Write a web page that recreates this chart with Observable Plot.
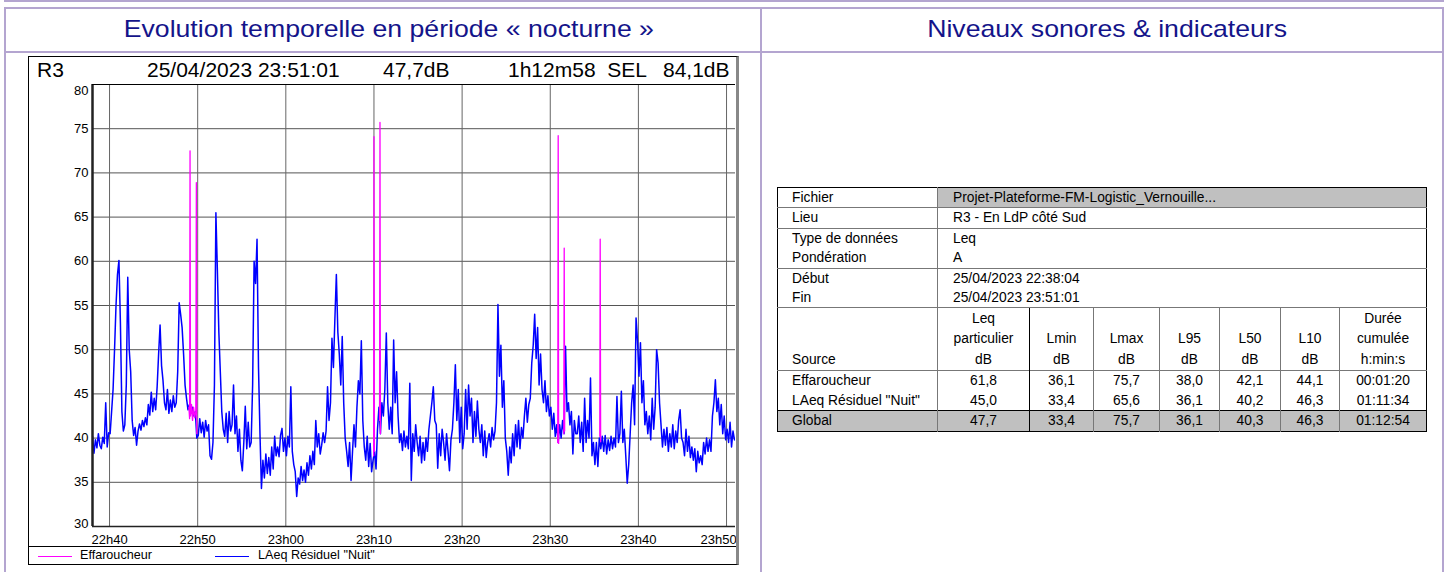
<!DOCTYPE html>
<html><head><meta charset="utf-8">
<script src="https://cdn.jsdelivr.net/npm/d3@7"></script>
<script src="https://cdn.jsdelivr.net/npm/@observablehq/plot@0.6"></script>
<style>
html,body{margin:0;padding:0;}
body{width:1448px;height:572px;position:relative;overflow:hidden;background:#fff;font-family:"Liberation Sans",Arial,sans-serif;color:#000;}
.ln{position:absolute;background:#b4a5d0;}
.title{position:absolute;top:8px;height:41px;line-height:41px;text-align:center;color:#14148a;font-size:24px;}
.title span{display:inline-block;transform:scaleX(1.11);}
#frame{position:absolute;left:28px;top:56px;width:707px;height:507px;border:1px solid #000;border-right:3px solid #888;}
.hd{position:absolute;top:58px;font-size:21px;line-height:24px;white-space:pre;}
#legend{position:absolute;left:28px;top:546px;width:708px;height:17px;border-top:1px solid #000;font-size:12.6px;}
.lgline{position:absolute;top:9px;height:1px;width:34px;}
.lgtxt{position:absolute;top:1px;line-height:15px;}
#plot{position:absolute;left:28px;top:78px;}
#tbl{position:absolute;left:777px;top:187px;border-collapse:collapse;table-layout:fixed;font-size:13.8px;}
#tbl td{padding:0;height:19.4px;line-height:19.4px;white-space:nowrap;overflow:hidden;}
#tbl td.lab{padding-left:14px;}
#tbl td.val{padding-left:15px;}
#tbl td.num{text-align:center;}
</style></head>
<body>
<div class="ln" style="left:4px;top:0;width:1440px;height:2px;"></div>
<div class="ln" style="left:4px;top:7px;width:1440px;height:2px;"></div>
<div class="ln" style="left:4px;top:51px;width:1440px;height:2px;"></div>
<div class="ln" style="left:4px;top:7px;width:2px;height:570px;"></div>
<div class="ln" style="left:760px;top:7px;width:2px;height:570px;"></div>
<div class="ln" style="left:1442px;top:7px;width:2px;height:570px;"></div>
<div class="title" style="left:12px;width:754px;"><span>Evolution temporelle en période « nocturne »</span></div>
<div class="title" style="left:767px;width:680px;"><span>Niveaux sonores &amp; indicateurs</span></div>
<div id="frame"></div>
<div id="hdr"></div>
<div id="plot"></div>
<div id="legend"></div>
<table id="tbl"></table>
<script>
// ---------- data ----------
const startTime = "2023-04-25T22:38:04Z";
const endTime = "2023-04-25T23:51:01Z";
const stepSeconds = 10;
// LAeq Résiduel "Nuit" — one row per minute (6 readings of 10 s), from 22:38:04
const residuelValues = [
  40.2, 38.3, 39.8, 38.9, 40.5, 39.2,
  38.8, 40.1, 39.4, 44.0, 39.0, 40.6,
  40.5, 43.0, 45.5, 50.0, 55.0, 58.5,
  60.1, 53.0, 43.0, 40.8, 41.5, 46.0,
  58.2, 50.0, 47.5, 42.0, 40.3, 41.2,
  39.2, 40.8, 41.6, 40.9, 42.0, 41.3,
  42.3, 41.5, 43.8, 42.6, 45.2, 43.0,
  44.5, 43.2, 45.8, 49.5, 52.8, 48.2,
  46.5, 44.0, 43.2, 45.5, 42.8, 44.3,
  43.0, 44.8, 43.5, 44.0, 47.5, 55.3,
  54.0, 52.5, 49.5, 46.0, 44.5, 43.2,
  43.8, 42.8, 43.5, 42.5, 43.0, 40.0,
  40.3, 42.2, 40.6, 41.8, 40.1, 42.0,
  40.8, 41.5, 38.0, 37.6, 39.5, 46.0,
  65.5, 59.0, 52.0, 47.5, 43.0, 41.0,
  40.2, 42.8, 39.5, 43.0, 40.8, 41.5,
  46.0, 40.5, 42.5, 38.5, 41.0, 37.5,
  36.3, 39.5, 43.6, 38.8, 41.8, 39.0,
  39.5, 46.0, 60.0, 57.5, 62.5, 48.0,
  40.5, 34.3, 37.5, 35.5, 38.2, 36.0,
  37.8, 35.8, 39.0, 36.5, 40.2, 38.0,
  39.0, 37.9, 40.3, 41.1, 38.5, 40.0,
  38.0, 40.2, 39.0, 45.8, 38.5, 37.0,
  36.2, 33.4, 35.5, 34.8, 36.8, 35.2,
  36.4, 35.0, 37.2, 35.8, 38.0, 36.5,
  38.5, 37.0, 42.0, 39.0, 40.5, 38.2,
  39.2, 40.6, 39.5, 40.8, 45.8, 42.0,
  44.0, 51.3, 48.0, 53.5, 58.5, 52.0,
  49.5, 46.0, 51.5, 44.0, 40.0, 38.5,
  36.8, 39.5, 35.2, 38.5, 41.5, 39.0,
  43.5, 46.5, 45.0, 51.0, 42.0, 39.0,
  37.5, 40.2, 36.8, 39.4, 36.2, 37.5,
  38.5, 36.5, 41.0, 43.5, 40.5, 44.0,
  42.5, 45.5, 51.9, 44.0, 41.0, 43.5,
  40.5, 51.1, 44.0, 47.5, 42.5, 39.5,
  40.5, 38.6, 40.8, 39.0, 40.2, 38.8,
  46.2, 35.2, 40.5, 38.5, 41.5, 39.5,
  38.0, 40.2, 37.2, 39.5, 37.5, 40.0,
  38.5, 41.0, 42.5, 44.0, 45.8, 42.0,
  41.5, 36.6, 40.5, 38.0, 41.0, 39.5,
  37.5, 40.5, 38.5, 36.3, 39.8, 41.0,
  44.0, 48.3, 42.0, 45.5, 39.5, 43.5,
  38.8, 40.5, 45.5, 41.0, 46.0, 42.5,
  44.5, 39.5, 43.0, 40.2, 44.2, 41.0,
  39.5, 41.5, 38.0, 40.8, 37.8, 39.5,
  40.5, 39.0, 41.2, 39.8, 40.8, 44.0,
  55.1, 47.0, 50.5, 43.5, 46.5, 40.0,
  38.5, 35.8, 39.0, 37.2, 40.5, 38.0,
  41.5, 39.0, 42.0, 38.8, 41.2, 40.0,
  42.5, 44.5, 41.8, 43.8, 44.5, 48.5,
  50.5, 54.0, 49.0, 52.5, 46.0, 49.5,
  45.5, 44.0, 46.5, 43.0, 44.8, 42.5,
  43.5, 41.0, 42.8, 40.2, 41.5, 39.5,
  41.5, 40.0, 42.0, 40.5, 50.4, 43.0,
  44.0, 41.5, 43.0, 38.2, 42.0, 40.5,
  40.5, 42.5, 39.5, 41.8, 38.5, 44.5,
  39.5, 42.0, 40.0, 46.8, 38.0, 39.5,
  37.0, 39.5, 36.8, 40.0, 38.8, 40.2,
  38.5, 40.3, 38.2, 39.8, 38.6, 40.2,
  38.8, 40.0, 39.0, 44.7, 39.5, 40.5,
  45.3, 39.5, 41.0, 38.0, 34.9, 37.0,
  40.5, 44.0, 46.0, 41.5, 53.6, 51.0,
  47.0, 50.8, 44.0, 46.5, 41.5, 43.0,
  40.5, 42.5, 39.8, 44.5, 41.0, 43.5,
  50.0, 48.5, 44.0, 41.5, 39.0, 41.0,
  39.2, 41.2, 38.5, 40.5, 39.0, 41.5,
  38.8, 40.8, 39.5, 42.0, 43.2, 40.0,
  39.5, 38.0, 41.0, 38.5, 40.2, 37.8,
  39.0, 37.5, 38.8, 36.2, 38.5, 37.2,
  38.0, 37.0, 39.5, 38.2, 40.0, 38.5,
  39.8, 38.5, 42.5, 44.0, 46.6, 43.0,
  44.5, 41.5, 43.8, 40.5, 42.5, 39.8,
  41.0, 39.5, 41.8, 39.0, 40.8, 39.8
];
// Effaroucheur events: time, dB, event id
const effaroucheurTimes = ["22:49:00","22:49:05","22:49:08","22:49:11","22:49:18","22:49:25","22:49:32","22:49:40","22:49:47","22:49:51","22:49:54",
  "23:09:58","23:10:00","23:10:03",
  "23:10:38","23:10:41","23:10:44",
  "23:30:51","23:30:54","23:30:57",
  "23:31:32","23:31:35","23:31:38",
  "23:35:37","23:35:40","23:35:43"];
const effaroucheurValues = [43.5,42.2,72.5,42.5,43.8,42.0,43.5,42.3,43.0,68.9,40.5,
  38.0,74.1,38.5,
  42.0,75.7,40.5,
  39.5,74.2,39.4,
  40.5,61.5,40.8,
  40.2,62.5,39.6];
const effaroucheurEvent = [1,1,1,1,1,1,1,1,1,1,1, 2,2,2, 3,3,3, 4,4,4, 5,5,5, 6,6,6];
const xTickTimes = ["22:40","22:50","23:00","23:10","23:20","23:30","23:40","23:50"];
const yTicks = [30,35,40,45,50,55,60,65,70,75,80];
const headerTexts = ["R3","25/04/2023 23:51:01","47,7dB","1h12m58  SEL","84,1dB"];
const legendLabels = ["Effaroucheur","LAeq Résiduel \"Nuit\""];
const seriesColors = ["#ff00ff","#0000ff"];

const metaLabels = ["Fichier","Lieu","Type de données","Pondération","Début","Fin"];
const metaValues = ["Projet-Plateforme-FM-Logistic_Vernouille...","R3 - En LdP côté Sud","Leq","A","25/04/2023 22:38:04","25/04/2023 23:51:01"];
const statHeaders = [["","","Source"],["Leq","particulier","dB"],["","Lmin","dB"],["","Lmax","dB"],["","L95","dB"],["","L50","dB"],["","L10","dB"],["Durée","cumulée","h:min:s"]];
const statSources = ["Effaroucheur","LAeq Résiduel \"Nuit\"","Global"];
const statLeq = ["61,8","45,0","47,7"];
const statLmin = ["36,1","33,4","33,4"];
const statLmax = ["75,7","65,6","75,7"];
const statL95 = ["38,0","36,1","36,1"];
const statL50 = ["42,1","40,2","40,3"];
const statL10 = ["44,1","46,3","46,3"];
const statDuree = ["00:01:20","01:11:34","01:12:54"];

// ---------- chart ----------
const t0 = new Date(startTime), t1 = new Date(endTime);
const day = "2023-04-25T";
const toDate = s => new Date(day + (s.length === 5 ? s + ":00" : s) + "Z");
const residuel = residuelValues.map((v, i) => ({time: new Date(+t0 + i * stepSeconds * 1000), value: v}));
const eff = effaroucheurTimes.map((s, i) => ({time: toDate(s), value: effaroucheurValues[i], event: effaroucheurEvent[i]}));
const xTicks = xTickTimes.map(toDate);
const fmt = d3.utcFormat("%Hh%M");
const lastTick = xTicks[xTicks.length - 1];

const chart = Plot.plot({
  width: 708, height: 470,
  marginLeft: 64, marginRight: 1, marginTop: 6, marginBottom: 22,
  x: {type: "utc", domain: [t0, t1], label: null},
  y: {domain: [30, 80], label: null},
  style: {fontFamily: "'Liberation Sans', Arial, sans-serif", fontSize: "13px", color: "#000", background: "transparent"},
  marks: [
    Plot.gridY(yTicks, {stroke: "#555", strokeOpacity: 1, strokeWidth: 1}),
    Plot.gridX(xTicks, {stroke: "#666", strokeOpacity: 1, strokeWidth: 1}),
    Plot.line(residuel, {x: "time", y: "value", stroke: seriesColors[1], strokeWidth: 1.5, clip: true}),
    Plot.line(eff, {x: "time", y: "value", z: "event", stroke: seriesColors[0], strokeWidth: 1.3, clip: true}),
    Plot.ruleX([t0], {stroke: "#222", strokeWidth: 2.5}),
    Plot.ruleY([80], {stroke: "#000", strokeWidth: 1}),
    Plot.ruleY([30], {stroke: "#222", strokeWidth: 1.5}),
    Plot.axisY(yTicks.filter(v => v > 30 && v < 80), {tickSize: 0, tickPadding: 4, fontSize: 13}),
    Plot.text([80], {y: d => d, text: d => String(d), frameAnchor: "left", textAnchor: "end", dx: -4, dy: 6, fontSize: 13}),
    Plot.text([30], {y: d => d, text: d => String(d), frameAnchor: "left", textAnchor: "end", dx: -4, dy: -3, fontSize: 13}),
    Plot.axisX(xTicks.slice(0, -1), {tickSize: 0, tickPadding: 8, tickFormat: fmt, fontSize: 13}),
    Plot.text([lastTick], {x: d => d, text: d => fmt(d), frameAnchor: "bottom", lineAnchor: "top", dy: 8, dx: -8, fontSize: 13})
  ]
});
document.getElementById("plot").appendChild(chart);

// header
const hdr = document.getElementById("hdr");
const hdrPos = [37, 147, 383, 508, 663];
headerTexts.forEach((t, i) => {
  const d = document.createElement("div");
  d.className = "hd";
  d.style.left = hdrPos[i] + "px";
  d.textContent = t;
  hdr.appendChild(d);
});

// legend
const lg = document.getElementById("legend");
const lgPos = [[10, 52], [187, 230]];
legendLabels.forEach((t, i) => {
  const l = document.createElement("div");
  l.className = "lgline"; l.style.left = lgPos[i][0] + "px"; l.style.background = seriesColors[i];
  lg.appendChild(l);
  const s = document.createElement("div");
  s.className = "lgtxt"; s.style.left = lgPos[i][1] + "px"; s.textContent = t;
  lg.appendChild(s);
});

// table
const colW = [160, 92, 64, 66, 60, 61, 59, 87];
const tbl = document.getElementById("tbl");
const cg = document.createElement("colgroup");
colW.forEach(w => { const c = document.createElement("col"); c.style.width = w + "px"; cg.appendChild(c); });
tbl.appendChild(cg);
const B = "1px solid #000", G = "1px solid #777";
tbl.style.border = B;
const sepAbove = [false, true, true, false, true, false];
metaLabels.forEach((lab, i) => {
  const tr = document.createElement("tr");
  const a = document.createElement("td"); a.className = "lab"; a.textContent = lab;
  const b = document.createElement("td"); b.className = "val"; b.colSpan = 7; b.textContent = metaValues[i];
  b.style.borderLeft = G;
  if (i === 0) b.style.background = "#c0c0c0";
  if (sepAbove[i]) { a.style.borderTop = G; b.style.borderTop = G; }
  tr.append(a, b); tbl.appendChild(tr);
});
// header row
{
  const tr = document.createElement("tr");
  statHeaders.forEach((h, j) => {
    const td = document.createElement("td");
    td.style.borderTop = G; td.style.height = "62px"; td.style.verticalAlign = "bottom";
    if (j > 0) td.style.borderLeft = (j === 2 ? B : G);
    td.className = j === 0 ? "lab" : "num";
    td.style.lineHeight = "20.5px";
    td.innerHTML = h.map(x => x || "&nbsp;").join("<br>");
    tr.appendChild(td);
  });
  tbl.appendChild(tr);
}
const statCols = [statLeq, statLmin, statLmax, statL95, statL50, statL10, statDuree];
statSources.forEach((s, i) => {
  const tr = document.createElement("tr");
  const a = document.createElement("td"); a.className = "lab"; a.textContent = s;
  if (i !== 1) a.style.borderTop = (i === 0 ? G : B);
  tr.appendChild(a);
  statCols.forEach((col, j) => {
    const td = document.createElement("td"); td.className = "num"; td.textContent = col[i];
    td.style.borderLeft = (j === 1 ? B : G);
    if (i !== 1) td.style.borderTop = (i === 0 ? G : B);
    tr.appendChild(td);
  });
  if (i === 2) tr.style.background = "#c0c0c0";
  tbl.appendChild(tr);
});
</script>
</body></html>
